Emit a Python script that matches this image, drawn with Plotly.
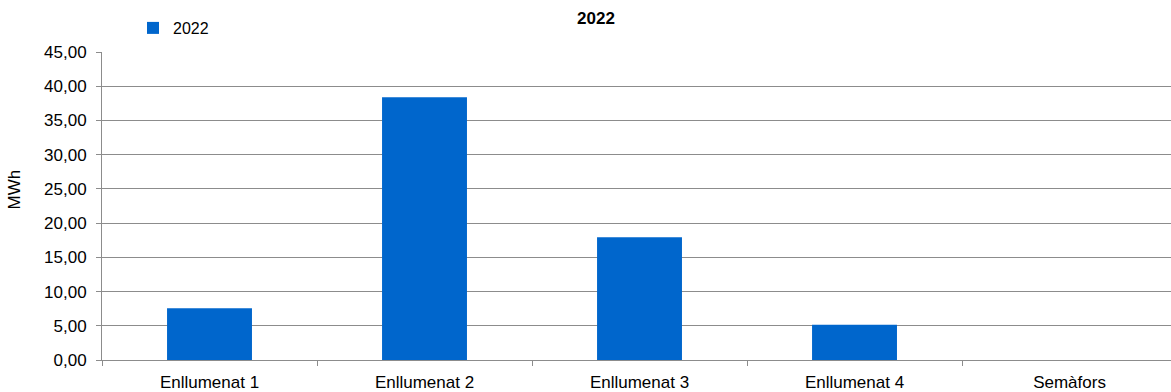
"""Bar chart of 2022 consumption (MWh) by installation"""

import plotly.graph_objects as go

CATEGORIES = ["Enllumenat 1", "Enllumenat 2", "Enllumenat 3", "Enllumenat 4", "Semàfors"]
VALUES_2022 = [7.55, 38.38, 17.93, 5.16, 0.0]
SERIES_NAME = "2022"
Y_TICKS = [0, 5, 10, 15, 20, 25, 30, 35, 40, 45]

GRID = "#8c8c8c"
FONT = "Liberation Sans, Arial, sans-serif"


def plot_graph():
    """Draw the bars and write the html"""

    fig = go.Figure()

    fig.add_trace(go.Bar(
        x=CATEGORIES,
        y=VALUES_2022,
        name=SERIES_NAME,
        marker=dict(color="#0066CC", line=dict(width=0)),
    ))

    # plot area runs past the right edge of the picture in the original
    fig.update_xaxes(
        range=[-0.5, 4.472],
        showline=True, linecolor=GRID, linewidth=1,
        ticks="outside", tickson="boundaries", ticklen=5, tickcolor=GRID,
        showgrid=False, automargin=False,
        ticklabelstandoff=7,
        tickfont=dict(size=17, color="#000000"),
    )
    fig.update_yaxes(
        range=[0, 45],
        tickvals=Y_TICKS,
        tickformat=".2f",
        showline=True, linecolor=GRID, linewidth=1,
        ticks="outside", ticklen=5, tickcolor=GRID,
        gridcolor=GRID, gridwidth=1,
        zeroline=False, automargin=False,
        ticklabelstandoff=6,
        tickfont=dict(size=17, color="#000000"),
    )

    fig.update_layout(
        width=1171, height=392,
        margin=dict(l=102, r=0, t=52, b=32),
        plot_bgcolor="white", paper_bgcolor="white",
        separators=",.",
        font=dict(family=FONT, size=16, color="#000000"),
        bargap=0.605,
        title=dict(text="<b>2022</b>", x=596 / 1171, xanchor="center",
                   y=1 - 18 / 392, yanchor="middle", yref="container",
                   font=dict(size=17)),
        showlegend=True,
        legend=dict(x=0.029, y=1 - 28 / 392, xanchor="left", yanchor="middle",
                    yref="container",
                    bgcolor="rgba(0,0,0,0)", itemwidth=30,
                    font=dict(size=16)),
        annotations=[dict(
            text="MWh", textangle=-90, xref="paper", yref="paper",
            x=-0.082, y=0.555, xanchor="center", yanchor="middle",
            showarrow=False, font=dict(size=17),
        )],
    )

    # drop the page's default body margin so the figure sits at 0,0
    fig.write_html("out.html", config={"displayModeBar": False},
                   post_script="document.body.style.margin='0';")


plot_graph()
